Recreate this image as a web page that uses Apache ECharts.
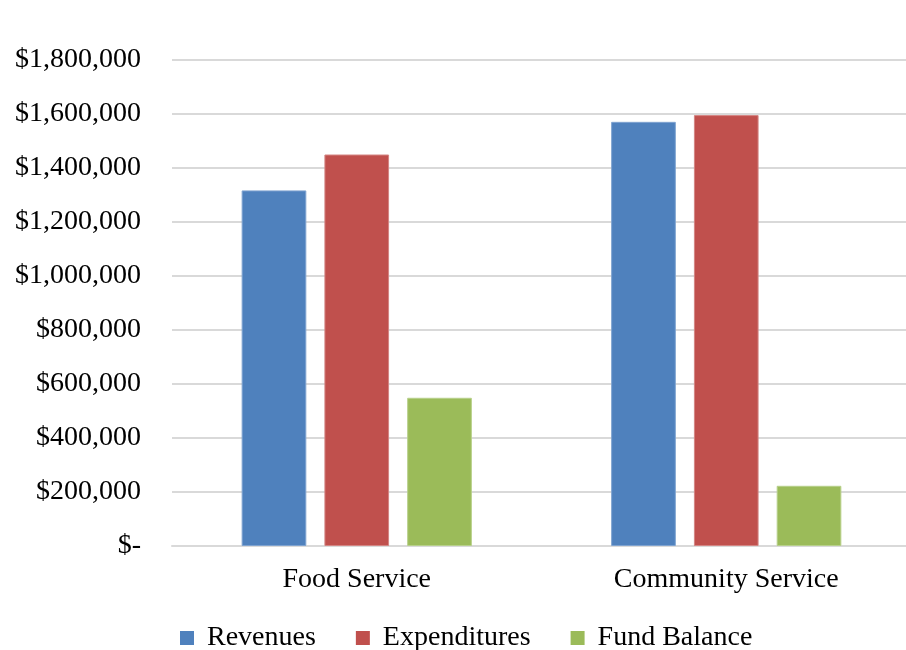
<!DOCTYPE html>
<html>
<head>
<meta charset="utf-8">
<script src="https://cdn.jsdelivr.net/npm/echarts@6/dist/echarts.min.js"></script>
<style>
  html, body { margin: 0; padding: 0; background: #fff; overflow: hidden; }
  #chart { width: 916px; height: 650px; }
</style>
</head>
<body>
<div id="chart"></div>
<script>
// Fund categories and amounts (USD)
const categories = ['Food Service', 'Community Service'];
const revenues = [1317000, 1571000];
const expenditures = [1450000, 1596000];
const fundBalance = [549000, 223000];

const yMin = 0;
const yMax = 1800000;
const yStep = 200000;

const FONT = '"Liberation Serif", "Times New Roman", serif';

function money(v) {
  if (v === 0) return '$-';
  return '$' + v.toLocaleString('en-US');
}

const chart = echarts.init(document.getElementById('chart'), null, { renderer: 'canvas' });

chart.setOption({
  animation: false,
  backgroundColor: '#ffffff',
  // plot area runs slightly past the right edge of the visible page
  grid: { left: 172, top: 60, bottom: 104, width: 739, containLabel: false },
  legend: {
    top: 619,
    left: 175,
    icon: 'rect',
    itemWidth: 14,
    itemHeight: 14,
    itemGap: 40,
    itemStyle: { borderWidth: 0 },
    textStyle: { fontFamily: FONT, fontSize: 28, color: '#000', padding: [0, 0, 0, 8] },
    data: ['Revenues', 'Expenditures', 'Fund Balance']
  },
  xAxis: {
    type: 'category',
    data: categories,
    axisLine: { show: true, lineStyle: { color: '#d9d9d9', width: 2 } },
    axisTick: { show: false },
    axisLabel: { fontFamily: FONT, fontSize: 28, color: '#000', margin: 20 }
  },
  yAxis: {
    type: 'value',
    min: yMin,
    max: yMax,
    interval: yStep,
    axisLine: { show: false },
    axisTick: { show: false },
    splitLine: { lineStyle: { color: '#d9d9d9', width: 2 } },
    axisLabel: {
      fontFamily: FONT, fontSize: 28, color: '#000', margin: 31,
      formatter: money
    }
  },
  series: [
    { name: 'Revenues', type: 'bar', data: revenues, barWidth: '17.5%', barGap: '28%',
      itemStyle: { color: '#4F81BD', borderColor: '#7fa3d0', borderWidth: 1 } },
    { name: 'Expenditures', type: 'bar', data: expenditures, barWidth: '17.5%', barGap: '28%',
      itemStyle: { color: '#C0504D', borderColor: '#d48583', borderWidth: 1 } },
    { name: 'Fund Balance', type: 'bar', data: fundBalance, barWidth: '17.5%', barGap: '28%',
      itemStyle: { color: '#9BBB59', borderColor: '#b7d08a', borderWidth: 1 } }
  ]
});
</script>
</body>
</html>
